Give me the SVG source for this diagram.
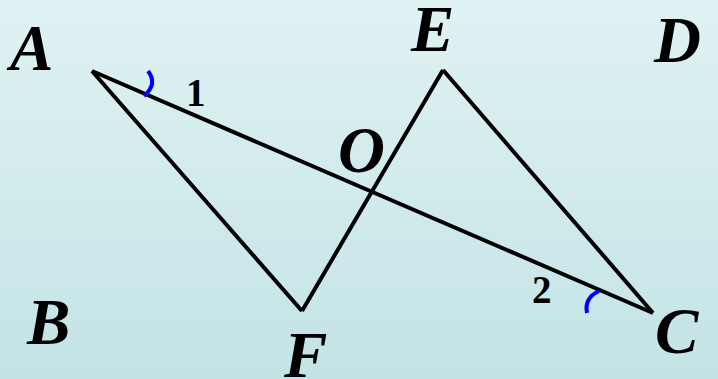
<svg xmlns="http://www.w3.org/2000/svg" width="718" height="379" viewBox="0 0 718 379">
<defs>
<linearGradient id="bg" x1="0" y1="0" x2="0" y2="1">
<stop offset="0" stop-color="#e0f2f3"/>
<stop offset="1" stop-color="#c3e3e5"/>
</linearGradient>
<style>
.lbl{font-family:"Liberation Serif","Times New Roman",serif;font-weight:bold;font-style:italic;font-size:65px;fill:#000}
.num{font-family:"Liberation Serif","Times New Roman",serif;font-weight:bold;font-size:39px;fill:#000}
.seg{stroke:#000;stroke-width:4;fill:none;stroke-linecap:butt}
.arc{stroke:#0000ff;stroke-width:4;fill:none}
</style>
</defs>
<rect width="718" height="379" fill="url(#bg)"/>
<g id="connectors">
<line class="seg" x1="92" y1="71" x2="653" y2="313"/>
<line class="seg" x1="92" y1="71" x2="302" y2="311"/>
<line class="seg" x1="302" y1="311" x2="443" y2="70"/>
<line class="seg" x1="443" y1="70" x2="653" y2="313"/>
</g>
<g id="angle1"><path class="arc" d="M148,71 Q158,84 144,96"/><text class="num" x="186" y="106">1</text></g>
<g id="angle2"><path class="arc" d="M599,291 Q584,298 587,313"/><text class="num" x="532" y="303">2</text></g>
<g id="A"><text class="lbl" x="10" y="70">A</text></g>
<g id="B"><text class="lbl" x="27" y="344">B</text></g>
<g id="C"><text class="lbl" x="655" y="353">C</text></g>
<g id="D"><text class="lbl" x="654" y="62">D</text></g>
<g id="E"><text class="lbl" x="411" y="51">E</text></g>
<g id="F"><text class="lbl" x="284" y="377">F</text></g>
<g id="O"><text class="lbl" x="338" y="172">O</text></g>
</svg>
